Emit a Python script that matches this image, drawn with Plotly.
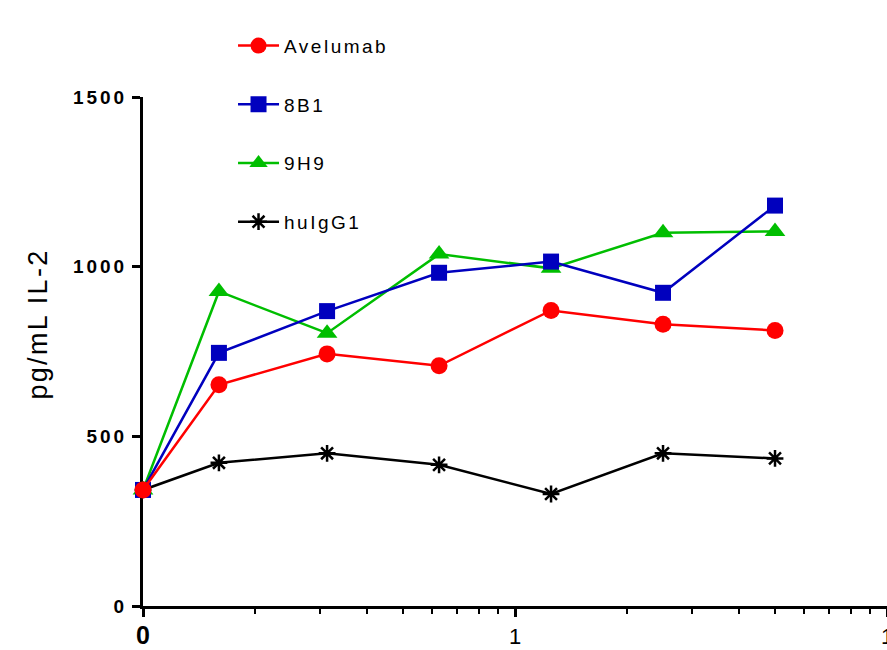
import plotly.graph_objects as go

# ---- data ----
conc = [0.1, 0.16, 0.3125, 0.625, 1.25, 2.5, 5]
avelumab = [342, 652, 743, 708, 871, 830, 812]
b8b1 = [342, 746, 869, 982, 1015, 923, 1180]
h9h9 = [342, 927, 804, 1037, 995, 1100, 1104]
huigg1 = [342, 422, 450, 416, 330, 450, 435]

series_names = ["Avelumab", "8B1", "9H9", "huIgG1"]
y_ticks = [0, 500, 1000, 1500]
x_ticks = [0.1, 1, 10]
x_ticklabels = ["0", "1", "1"]
x_minor = [0.2, 0.3, 0.4, 0.5, 0.6, 0.7, 0.8, 0.9, 2, 3, 4, 5, 6, 7, 8, 9]
y_title = "pg/mL IL-2"

FONT = "Liberation Sans, Arial, sans-serif"

def spaced(t, px):
    return f'<span style="letter-spacing:{px}px">{t}</span>'

styles = {
    "Avelumab": dict(color="#FF0000", symbol="circle", size=17),
    "8B1": dict(color="#0000BE", symbol="square", size=16),
    "9H9": dict(color="#00BE00", symbol="triangle-up", size=18),
    "huIgG1": dict(color="#000000", symbol="asterisk-open", size=14),
}
values = {"Avelumab": avelumab, "8B1": b8b1, "9H9": h9h9, "huIgG1": huigg1}

fig = go.Figure()
for name in reversed(series_names):
    s = styles[name]
    marker = dict(symbol=s["symbol"], size=s["size"], color=s["color"])
    if s["symbol"] == "asterisk-open":
        marker["line"] = dict(color=s["color"], width=2.5)
    fig.add_trace(go.Scatter(
        x=conc, y=values[name], mode="lines+markers",
        name=spaced(name, 2.5), legendgroup=name,
        legendrank=series_names.index(name) + 1,
        line=dict(color=s["color"], width=2.5),
        marker=marker, cliponaxis=False,
    ))

fig.update_layout(
    width=887, height=650,
    margin=dict(l=143, r=0, t=97, b=44, autoexpand=False),
    plot_bgcolor="white", paper_bgcolor="white",
    font=dict(family=FONT, color="black"),
    showlegend=True,
    legend=dict(
        x=0.121, y=1.138, xanchor="left", yanchor="top",
        traceorder="grouped", tracegroupgap=31, itemwidth=41,
        font=dict(size=19, family=FONT, color="black"),
        bgcolor="rgba(0,0,0,0)",
    ),
    xaxis=dict(
        type="log", range=[-1, 1], automargin=False,
        showgrid=False, zeroline=False,
        showline=True, linecolor="black", linewidth=3,
        ticks="outside", ticklen=8, tickwidth=3, tickcolor="black",
        tickvals=x_ticks,
        ticktext=[f'<span style="font-size:25px"><b>{x_ticklabels[0]}</b></span>'] + x_ticklabels[1:],
        tickfont=dict(size=22, family=FONT, color="black"),
        ticklabelstandoff=1, ticklabeloverflow="allow",
        minor=dict(tickvals=x_minor, ticks="outside", ticklen=5, tickwidth=2, tickcolor="black"),
        layer="below traces",
    ),
    yaxis=dict(
        range=[0, 1500], automargin=False,
        showgrid=False, zeroline=False,
        showline=True, linecolor="black", linewidth=3,
        ticks="outside", ticklen=8, tickwidth=3, tickcolor="black",
        tickvals=y_ticks,
        ticktext=[spaced(str(v), 3) for v in y_ticks],
        tickfont=dict(size=19, family=FONT, color="black", weight="bold"),
        ticklabelstandoff=1,
        layer="below traces",
    ),
    annotations=[dict(
        text=spaced(y_title, 2.3), textangle=-90,
        xref="paper", yref="paper", x=0, y=0.553,
        xanchor="right", yanchor="middle", xshift=-88, showarrow=False,
        font=dict(size=27, family=FONT, color="black"),
    )],
)

fig.write_html("out.html")
